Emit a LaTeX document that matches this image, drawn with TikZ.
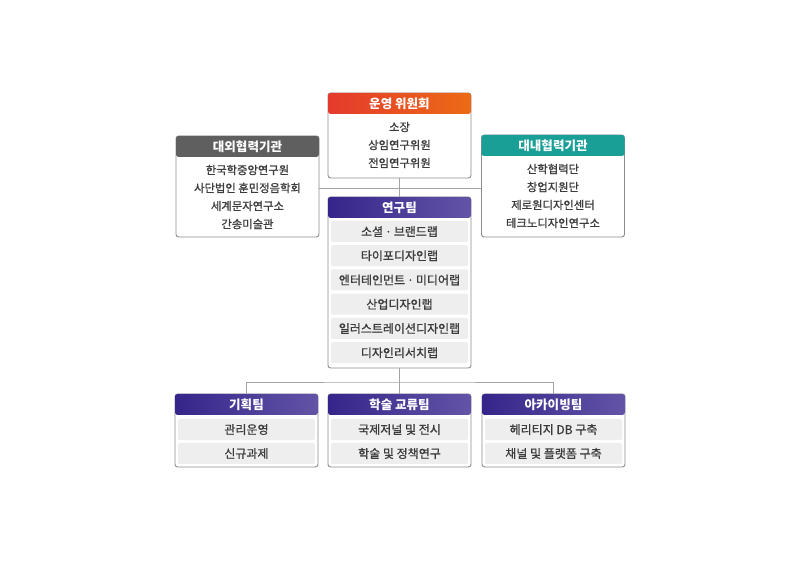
\documentclass[tikz,border=0pt]{standalone}
\usepackage{fontspec}
\setmainfont{Noto Sans CJK KR}
\newfontfamily\krmed{Noto Sans CJK KR}[FakeBold=1.0]
\usetikzlibrary{calc}

\definecolor{frameGray}{HTML}{8C8C8C}
\definecolor{lineGray}{HTML}{A3A3A3}
\definecolor{textGray}{HTML}{3C3C3C}
\definecolor{itemGray}{HTML}{EEEEEE}
\definecolor{opsRed}{HTML}{E43A2D}
\definecolor{opsOrange}{HTML}{EC6B15}
\definecolor{extGray}{HTML}{5F5F5F}
\definecolor{intTeal}{HTML}{199F96}
\definecolor{teamDark}{HTML}{35258A}
\definecolor{teamLight}{HTML}{6354A7}

\tikzset{
  frame/.style={draw=frameGray, line width=0.7pt, fill=white, rounded corners=2pt, inner sep=0pt, minimum width=107.25pt},
  head/.style={rounded corners=2pt, inner sep=0pt, minimum width=107.25pt, minimum height=15.75pt, text=white, font=\bfseries\fontsize{9.4}{10}\selectfont},
  teamhead/.style={head, left color=teamDark, right color=teamLight},
  body/.style={align=center, inner sep=0pt, text=textGray, font=\krmed\fontsize{8.5}{13.5}\selectfont},
  item/.style={fill=itemGray, rounded corners=1.5pt, inner sep=0pt, minimum width=102.75pt, minimum height=15.75pt, text=textGray, font=\krmed\fontsize{9}{10}\selectfont},
  link/.style={draw=lineGray, line width=0.7pt}
}

\begin{document}
\begin{tikzpicture}[x=0.75pt, y=-0.75pt]
  \useasboundingbox[fill=white] (0,0) rectangle (800,566);

  % committee
  \node[frame, minimum height=63.75pt] (ops) at (399.5,135.5) {};
  \node[head, left color=opsRed, right color=opsOrange] (opsH) at (399.5,103.5) {운영 위원회};
  \node[body] (opsB) at (399.5,145) {소장\\상임연구위원\\전임연구위원};

  % partners
  \node[frame, minimum height=75.75pt] (ext) at (247.5,186.5) {};
  \node[head, fill=extGray] (extH) at (247.5,146.5) {대외협력기관};
  \node[body] (extB) at (247.5,197) {한국학중앙연구원\\사단법인 훈민정음학회\\세계문자연구소\\간송미술관};

  \node[frame, minimum height=76.5pt] (int) at (553,186) {};
  \node[head, fill=intTeal] (intH) at (553,145.5) {대내협력기관};
  \node[body] (intB) at (553,196) {산학협력단\\창업지원단\\제로원디자인센터\\테크노디자인연구소};

  % research team
  \node[frame, minimum height=128.25pt] (res) at (399.5,282.5) {};
  \node[teamhead] (resH) at (399.5,207.5) {연구팀};
  \node[item] (lab1) at (399.5,231.5) {소셜\,·\,브랜드랩};
  \node[item] (lab2) at (399.5,255.75) {타이포디자인랩};
  \node[item] (lab3) at (399.5,280) {엔터테인먼트\,·\,미디어랩};
  \node[item] (lab4) at (399.5,304.25) {산업디자인랩};
  \node[item] (lab5) at (399.5,328.5) {일러스트레이션디자인랩};
  \node[item] (lab6) at (399.5,352.75) {디자인리서치랩};

  % lower teams
  \node[frame, minimum height=54.75pt] (plan) at (246.5,430.5) {};
  \node[teamhead] (planH) at (246.5,404.5) {기획팀};
  \node[item] (plan1) at (246.5,429.5) {관리운영};
  \node[item] (plan2) at (246.5,453.5) {신규과제};

  \node[frame, minimum height=54.75pt] (acad) at (399.5,430.5) {};
  \node[teamhead] (acadH) at (399.5,404.5) {학술 교류팀};
  \node[item] (acad1) at (399.5,429.5) {국제저널 및 전시};
  \node[item] (acad2) at (399.5,453.5) {학술 및 정책연구};

  \node[frame, minimum height=54.75pt] (arch) at (553.5,430.5) {};
  \node[teamhead] (archH) at (553.5,404.5) {아카이빙팀};
  \node[item] (arch1) at (553.5,429.5) {헤리티지 DB 구축};
  \node[item] (arch2) at (553.5,453.5) {채널 및 플랫폼 구축};

  % connectors
  \coordinate (hub) at (399.5,188);
  \coordinate (fork) at (399.5,382);
  \draw[link] (ext.east |- hub) -- (int.west |- hub);
  \draw[link] (ops) -- (res);
  \draw[link] (res) -- (acad);
  \draw[link] (plan) |- (fork) -| (arch);
\end{tikzpicture}
\end{document}
